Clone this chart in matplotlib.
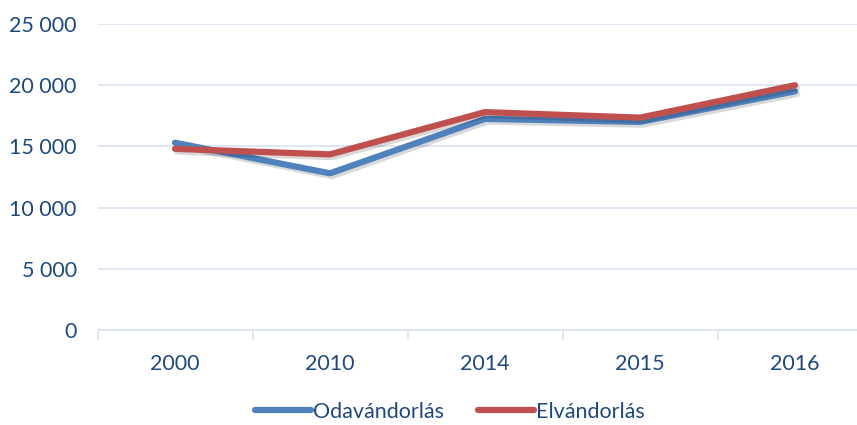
import matplotlib
matplotlib.use("Agg")
import matplotlib.pyplot as plt
import matplotlib.patheffects as pe
from matplotlib.ticker import FuncFormatter, FixedLocator

# data
years = ["2000", "2010", "2014", "2015", "2016"]
odavandorlas = [15300, 12800, 17250, 17000, 19500]
elvandorlas = [14800, 14350, 17800, 17350, 20000]

text_color = "#1F497D"
grid_color = "#D9E3F2"

plt.rcParams["font.family"] = ["Lato", "DejaVu Sans"]

fig = plt.figure(figsize=(8.57, 4.25), dpi=100)
ax = fig.add_axes([97.5 / 857, 1 - 330 / 425, 775 / 857, 306 / 425])

x = list(range(len(years)))
shadow = [pe.SimpleLineShadow(offset=(1.5, -2), shadow_color="#000000", alpha=0.15, rho=1.0), pe.Normal()]

ax.plot(x, odavandorlas, color="#4F81BD", lw=4.5, solid_capstyle="round", solid_joinstyle="round",
        label="Odavándorlás", path_effects=shadow, zorder=3)
ax.plot(x, elvandorlas, color="#C0504D", lw=4.5, solid_capstyle="round", solid_joinstyle="round",
        label="Elvándorlás", path_effects=shadow, zorder=4)

ax.set_xlim(-0.5, len(years) - 0.5)
ax.set_ylim(0, 25000)
ax.set_yticks(range(0, 25001, 5000))
ax.yaxis.set_major_formatter(FuncFormatter(lambda v, p: f"{int(v):,}".replace(",", " ")))
ax.set_xticks(x)
ax.set_xticklabels(years)
ax.xaxis.set_minor_locator(FixedLocator([i + 0.5 for i in range(-1, len(years))]))

ax.grid(axis="y", color=grid_color, lw=1.2)
ax.set_axisbelow(True)
for s in ["top", "right", "left"]:
    ax.spines[s].set_visible(False)
ax.spines["bottom"].set_color(grid_color)
ax.spines["bottom"].set_linewidth(1.2)

ax.tick_params(axis="y", length=0, pad=15, labelsize=15.5, labelcolor=text_color)
ax.tick_params(axis="x", which="major", length=0, pad=17, labelsize=15.5, labelcolor=text_color)
ax.tick_params(axis="x", which="minor", length=7, width=1.2, color=grid_color)

leg = fig.legend(loc="center", bbox_to_anchor=(0.525, 1 - 412 / 425), ncol=2, frameon=False,
                 fontsize=15.5, handlelength=2.6, handletextpad=0.1, columnspacing=1.6)
for t in leg.get_texts():
    t.set_color(text_color)
for h in leg.get_lines():
    h.set_path_effects([])

fig.savefig("out.png", dpi=100)
